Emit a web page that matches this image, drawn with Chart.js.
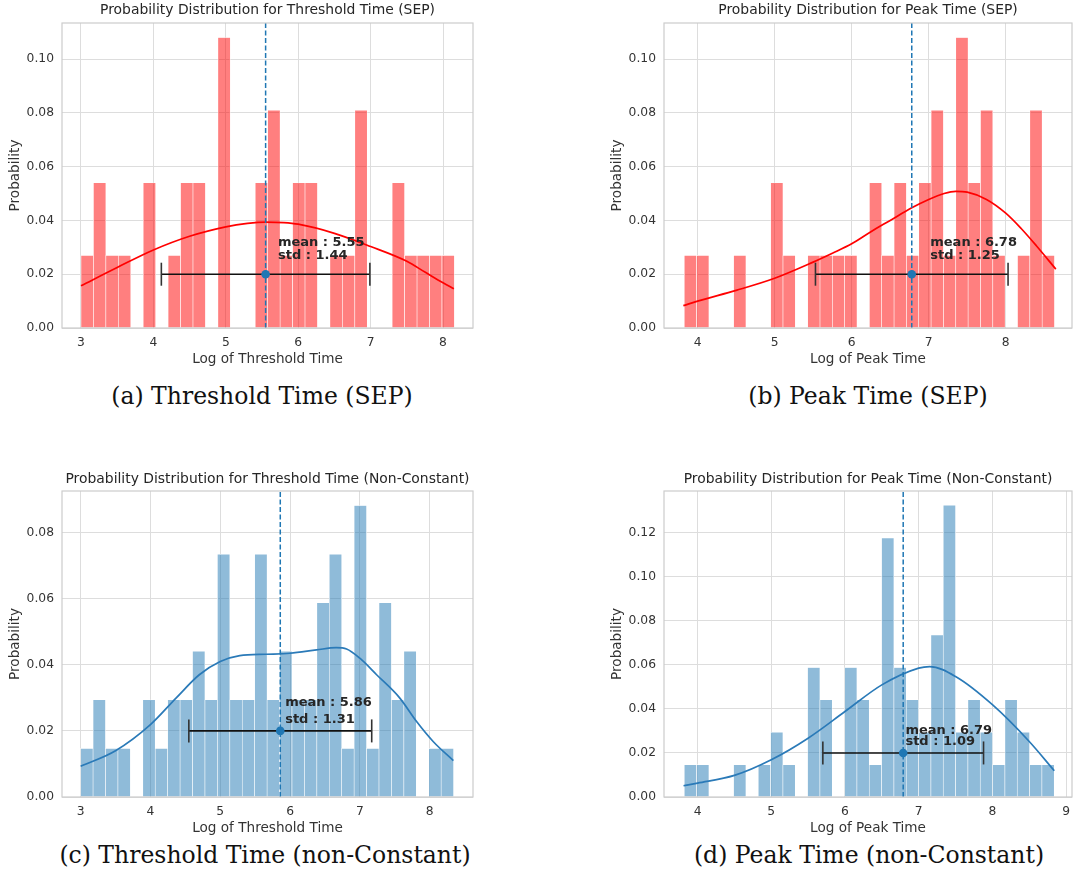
<!DOCTYPE html>
<html>
<head>
<meta charset="utf-8">
<script src="https://cdn.jsdelivr.net/npm/chart.js@4.4.0/dist/chart.umd.min.js"></script>
<style>
  body { margin: 0; background: #fff; width: 1073px; height: 884px; position: relative; overflow: hidden; }
  canvas { position: absolute; }
  .cap { position: absolute; font-family: "DejaVu Serif", serif; font-size: 23.5px; color: #111;
         white-space: nowrap; line-height: 1; transform: translate(-50%, -50%); }
</style>
</head>
<body>
<canvas id="chartA" width="480" height="370" style="left:0;top:0"></canvas>
<canvas id="chartB" width="483" height="370" style="left:590px;top:0"></canvas>
<canvas id="chartC" width="480" height="374" style="left:0;top:465px"></canvas>
<canvas id="chartD" width="483" height="374" style="left:590px;top:465px"></canvas>
<div class="cap" style="left:262px;top:397px">(a) Threshold Time (SEP)</div>
<div class="cap" style="left:868px;top:397px">(b) Peak Time (SEP)</div>
<div class="cap" style="left:265px;top:856px">(c) Threshold Time (non-Constant)</div>
<div class="cap" style="left:869px;top:856px">(d) Peak Time (non-Constant)</div>

<script>
// ---------- data ----------

// (a) Threshold Time (SEP) -- 30 bins, 37 events
const sepThreshBinStart = 3.0;
const sepThreshBinWidth = 0.1719;
const sepThreshProb = [0.027, 0.054, 0.027, 0.027, 0, 0.054, 0, 0.027, 0.054, 0.054,
                       0, 0.108, 0, 0, 0.054, 0.081, 0.027, 0.054, 0.054, 0,
                       0.027, 0.027, 0.081, 0, 0, 0.054, 0.027, 0.027, 0.027, 0.027];
const sepThreshKdeX = [3.0, 3.5, 4.0, 4.5, 5.0, 5.3, 5.55, 5.8, 6.0, 6.5, 7.0, 7.5, 7.75, 8.0, 8.15];
const sepThreshKdeY = [0.0157, 0.0225, 0.0290, 0.0341, 0.0376, 0.0389, 0.0394, 0.0392, 0.0386, 0.0352, 0.0303, 0.0248, 0.0208, 0.0168, 0.0146];

// (b) Peak Time (SEP)
const sepPeakBinStart = 3.827;
const sepPeakBinWidth = 0.1602;
const sepPeakProb = [0.027, 0.027, 0, 0, 0.027, 0, 0, 0.054, 0.027, 0,
                     0.027, 0.027, 0.027, 0.027, 0, 0.054, 0.027, 0.054, 0.027, 0.054,
                     0.081, 0.027, 0.108, 0.054, 0.081, 0.027, 0, 0.027, 0.081, 0.027];
const sepPeakKdeX = [3.815, 4.0, 4.5, 5.0, 5.5, 5.75, 6.0, 6.25, 6.5, 6.78, 7.0, 7.2, 7.35, 7.5, 7.75, 8.0, 8.2, 8.4, 8.65];
const sepPeakKdeY = [0.0083, 0.0100, 0.0140, 0.0185, 0.0245, 0.0278, 0.0313, 0.0358, 0.0400, 0.0447, 0.0478, 0.0500, 0.0508, 0.0505, 0.0478, 0.0427, 0.0370, 0.0305, 0.0219];

// (c) Threshold Time (non-Constant) -- 68 events
const ncThreshBinStart = 3.0;
const ncThreshBinWidth = 0.1781;
const ncThreshProb = [0.0147, 0.0294, 0.0147, 0.0147, 0, 0.0294, 0.0147, 0.0294, 0.0294, 0.0441,
                      0.0294, 0.0735, 0.0294, 0.0294, 0.0735, 0.0294, 0.0441, 0.0294, 0.0294, 0.0588,
                      0.0735, 0.0147, 0.0882, 0.0147, 0.0588, 0.0294, 0.0441, 0, 0.0147, 0.0147];
const ncThreshKdeX = [3.0, 3.5, 4.0, 4.37, 4.7, 5.0, 5.28, 5.66, 6.0, 6.38, 6.66, 6.81, 7.0, 7.24, 7.57, 7.81, 8.05, 8.34];
const ncThreshKdeY = [0.0093, 0.014, 0.0219, 0.030, 0.037, 0.041, 0.0428, 0.0432, 0.0435, 0.0445, 0.0452, 0.0448, 0.042, 0.037, 0.030, 0.0229, 0.0168, 0.011];

// (d) Peak Time (non-Constant)
const ncPeakBinStart = 3.82;
const ncPeakBinWidth = 0.1673;
const ncPeakProb = [0.0147, 0.0147, 0, 0, 0.0147, 0, 0.0147, 0.0294, 0.0147, 0,
                    0.0588, 0.0441, 0, 0.0588, 0.0441, 0.0147, 0.1176, 0.0588, 0.0441, 0.0294,
                    0.0735, 0.1324, 0.0294, 0.0441, 0.0294, 0.0147, 0.0441, 0.0294, 0.0147, 0.0147];
const ncPeakKdeX = [3.81, 4.0, 4.5, 5.0, 5.5, 6.0, 6.5, 7.0, 7.15, 7.5, 8.0, 8.5, 8.84];
const ncPeakKdeY = [0.0051, 0.0063, 0.0098, 0.0169, 0.0267, 0.0388, 0.0509, 0.0585, 0.0592, 0.0547, 0.0419, 0.0252, 0.0119];

// mean / std of each distribution
const means = [5.55, 6.78, 5.86, 6.79];
const stds = [1.44, 1.25, 1.31, 1.09];
const errBarY = 0.02;

// tick labels
const xTicksThresh = [3, 4, 5, 6, 7, 8];
const xTicksPeakSep = [4, 5, 6, 7, 8];
const xTicksPeakNc = [4, 5, 6, 7, 8, 9];
const yTicksSep = [0, 0.02, 0.04, 0.06, 0.08, 0.10];
const yTicksNcThresh = [0, 0.02, 0.04, 0.06, 0.08];
const yTicksNcPeak = [0, 0.02, 0.04, 0.06, 0.08, 0.10, 0.12];

// ---------- drawing ----------
Chart.defaults.font.family = '"DejaVu Sans", sans-serif';
Chart.defaults.color = '#333';

const RED_BAR = 'rgba(255, 0, 0, 0.5)';
const BLUE_BAR = 'rgba(31, 119, 180, 0.5)';
const BLUE = '#1f77b4';

// grey box around the plot area (seaborn whitegrid spines)
const frame = {
  id: 'frame',
  afterDatasetsDraw(chart) {
    const { ctx, chartArea: a } = chart;
    ctx.save();
    ctx.strokeStyle = '#cccccc';
    ctx.lineWidth = 1.2;
    ctx.strokeRect(a.left, a.top, a.right - a.left, a.bottom - a.top);
    ctx.restore();
  }
};

// axes title, centred over the plot area like matplotlib does
const axTitle = {
  id: 'axTitle',
  afterDraw(chart, args, opts) {
    const { ctx, chartArea: a } = chart;
    ctx.save();
    ctx.font = '13.9px "DejaVu Sans"';
    ctx.fillStyle = '#262626';
    ctx.textAlign = 'center';
    ctx.textBaseline = 'middle';
    ctx.fillText(opts.text, (a.left + a.right) / 2, opts.y);
    ctx.restore();
  }
};

// "mean : x" / "std : y" labels
const statText = {
  id: 'statText',
  afterDraw(chart, args, opts) {
    const { ctx, scales: { x, y } } = chart;
    ctx.save();
    ctx.font = 'bold 13px "DejaVu Sans"';
    ctx.fillStyle = '#262626';
    ctx.textBaseline = 'middle';
    opts.lines.forEach(l => ctx.fillText(l.text, x.getPixelForValue(l.x), y.getPixelForValue(l.y)));
    ctx.restore();
  }
};

function makeHist(id, p) {
  const bars = p.prob.map((v, i) => ({ x: p.binStart + (i + 0.5) * p.binWidth, y: v }));
  const kde = p.kdeX.map((v, i) => ({ x: v, y: p.kdeY[i] }));
  const m = means[p.idx], s = stds[p.idx];

  new Chart(document.getElementById(id), {
    type: 'bar',
    data: {
      datasets: [
        { // dashed mean line
          type: 'line', order: 1,
          data: [{ x: m, y: 0 }, { x: m, y: p.yMax }],
          borderColor: BLUE, borderWidth: 1.5, borderDash: [5, 2.5], pointRadius: 0
        },
        { // mean marker
          type: 'line', order: 0, showLine: false,
          data: [{ x: m, y: errBarY }],
          pointRadius: 4.3, pointBackgroundColor: BLUE, pointBorderWidth: 0
        },
        { // +/- std error bar with caps
          type: 'line', order: 2,
          data: [{ x: m - s, y: errBarY }, { x: m + s, y: errBarY }],
          borderColor: '#111', borderWidth: 1.6,
          pointStyle: 'line', pointRotation: 90, pointRadius: 11.5,
          pointBorderColor: '#333', pointBorderWidth: 1.6
        },
        { // kde
          type: 'line', order: 3,
          data: kde,
          borderColor: p.lineColor, borderWidth: 1.7, pointRadius: 0,
          cubicInterpolationMode: 'monotone'
        },
        { // histogram
          type: 'bar', order: 4,
          data: bars,
          backgroundColor: p.barColor,
          borderColor: 'rgba(255,255,255,0.9)',
          borderWidth: { left: 0.6, right: 0.6, top: 0.6, bottom: 0 },
          borderSkipped: false,
          barPercentage: 1, categoryPercentage: 1
        }
      ]
    },
    options: {
      responsive: false,
      animation: false,
      events: [],
      layout: { autoPadding: false, padding: { left: p.padLeft, right: p.padRight, top: p.padTop, bottom: 0 } },
      scales: {
        x: {
          type: 'linear', min: p.xMin, max: p.xMax, offset: false,
          afterBuildTicks: sc => { sc.ticks = p.xTicks.map(v => ({ value: v })); },
          afterFit: sc => { sc.height = 42; sc.paddingLeft = 0; sc.paddingRight = 0; },
          ticks: { font: { size: 12.3 }, color: '#333', padding: 7, callback: v => String(v) },
          grid: { color: '#dddddd', lineWidth: 1, drawTicks: false, offset: false },
          border: { display: false },
          title: { display: true, text: p.xTitle, font: { size: 13.6 }, color: '#333', padding: { top: 0, bottom: 2.5 } }
        },
        y: {
          min: 0, max: p.yMax,
          afterBuildTicks: sc => { sc.ticks = p.yTicks.map(v => ({ value: v })); },
          afterFit: sc => { sc.width = 62; sc.paddingTop = 0; sc.paddingBottom = 0; },
          ticks: { font: { size: 12.3 }, color: '#333', padding: 8, callback: v => v.toFixed(2) },
          grid: { color: '#dddddd', lineWidth: 1, drawTicks: false },
          border: { display: false },
          title: { display: true, text: 'Probability', font: { size: 13.6 }, color: '#333', padding: { top: 7, bottom: 0 } }
        }
      },
      plugins: {
        legend: { display: false },
        tooltip: { enabled: false },
        title: { display: false },
        axTitle: { text: p.title, y: p.titleY },
        statText: { lines: p.labels }
      }
    },
    plugins: [frame, axTitle, statText]
  });
}

makeHist('chartA', {
  idx: 0, title: 'Probability Distribution for Threshold Time (SEP)', xTitle: 'Log of Threshold Time',
  binStart: sepThreshBinStart, binWidth: sepThreshBinWidth, prob: sepThreshProb,
  kdeX: sepThreshKdeX, kdeY: sepThreshKdeY,
  xMin: 2.738, xMax: 8.414, yMax: 0.1134, xTicks: xTicksThresh, yTicks: yTicksSep,
  barColor: RED_BAR, lineColor: '#ff0000',
  padLeft: 0, padRight: 7, padTop: 23, titleY: 10,
  labels: [{ text: 'mean : 5.55', x: 5.72, y: 0.0317 }, { text: 'std : 1.44', x: 5.72, y: 0.0268 }]
});

makeHist('chartB', {
  idx: 1, title: 'Probability Distribution for Peak Time (SEP)', xTitle: 'Log of Peak Time',
  binStart: sepPeakBinStart, binWidth: sepPeakBinWidth, prob: sepPeakProb,
  kdeX: sepPeakKdeX, kdeY: sepPeakKdeY,
  xMin: 3.564, xMax: 8.86, yMax: 0.1134, xTicks: xTicksPeakSep, yTicks: yTicksSep,
  barColor: RED_BAR, lineColor: '#ff0000',
  padLeft: 12, padRight: 1, padTop: 23, titleY: 10,
  labels: [{ text: 'mean : 6.78', x: 7.02, y: 0.0317 }, { text: 'std : 1.25', x: 7.02, y: 0.0268 }]
});

makeHist('chartC', {
  idx: 2, title: 'Probability Distribution for Threshold Time (Non-Constant)', xTitle: 'Log of Threshold Time',
  binStart: ncThreshBinStart, binWidth: ncThreshBinWidth, prob: ncThreshProb,
  kdeX: ncThreshKdeX, kdeY: ncThreshKdeY,
  xMin: 2.733, xMax: 8.621, yMax: 0.0926, xTicks: xTicksThresh, yTicks: yTicksNcThresh,
  barColor: BLUE_BAR, lineColor: '#2a7ab8',
  padLeft: 0, padRight: 7, padTop: 26, titleY: 14,
  labels: [{ text: 'mean : 5.86', x: 5.93, y: 0.0285 }, { text: 'std : 1.31', x: 5.93, y: 0.0235 }]
});

makeHist('chartD', {
  idx: 3, title: 'Probability Distribution for Peak Time (Non-Constant)', xTitle: 'Log of Peak Time',
  binStart: ncPeakBinStart, binWidth: ncPeakBinWidth, prob: ncPeakProb,
  kdeX: ncPeakKdeX, kdeY: ncPeakKdeY,
  xMin: 3.545, xMax: 9.08, yMax: 0.1389, xTicks: xTicksPeakNc, yTicks: yTicksNcPeak,
  barColor: BLUE_BAR, lineColor: '#2a7ab8',
  padLeft: 12, padRight: 1, padTop: 26, titleY: 14,
  labels: [{ text: 'mean : 6.79', x: 6.82, y: 0.0301 }, { text: 'std : 1.09', x: 6.82, y: 0.0251 }]
});
</script>
</body>
</html>
